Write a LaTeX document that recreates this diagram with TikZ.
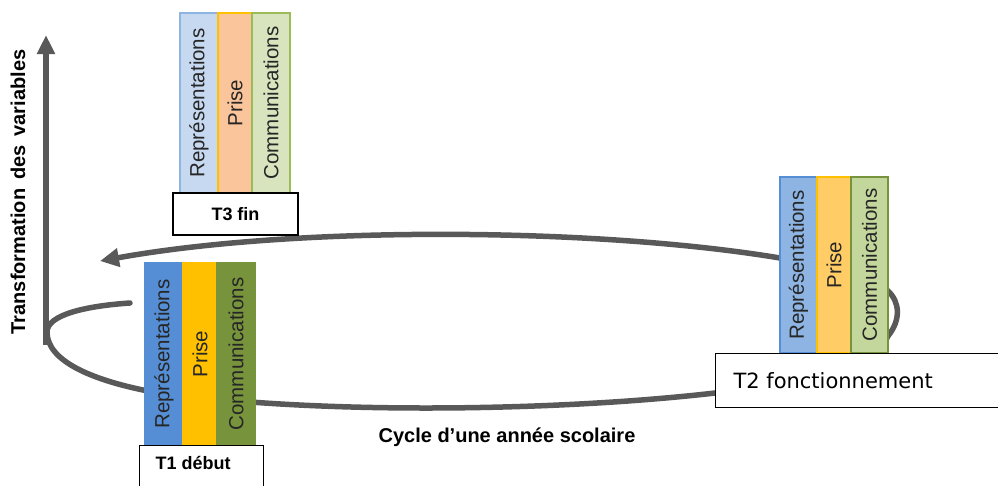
\documentclass[tikz,border=0pt]{standalone}
\usepackage{fontspec}
\setmainfont{Liberation Sans}
\newfontfamily\tahoma{DejaVu Sans}
\usetikzlibrary{arrows.meta}
\definecolor{loopgray}{HTML}{595959}
\definecolor{lbluefill}{HTML}{C6D9F1}\definecolor{lblueline}{HTML}{8EB4E3}
\definecolor{lorgfill}{HTML}{FAC59A}\definecolor{lorgline}{HTML}{FFC000}
\definecolor{lgrnfill}{HTML}{D7E4BD}\definecolor{lgrnline}{HTML}{9BBB59}
\definecolor{dblue}{HTML}{558ED5}
\definecolor{dyellow}{HTML}{FFC000}
\definecolor{dgreen}{HTML}{77933C}
\definecolor{mblue}{HTML}{8DB4E2}
\definecolor{myellow}{HTML}{FFCC66}
\definecolor{mgreen}{HTML}{C3D69B}
\definecolor{bartext}{HTML}{262626}
\tikzset{
  barbox/.style={draw, line width=1.2pt, rotate=90, inner sep=0pt, anchor=center,
    text=bartext, font=\fontsize{20.5}{22}\selectfont},
  labbox/.style={draw=black, fill=white, line width=1.4pt},
  looppath/.style={draw=loopgray, line width=5.5pt, line cap=round},
}
\begin{document}
\begin{tikzpicture}[x=1pt, y=-1pt]
\useasboundingbox (0,0) rectangle (998,485);

% loop
\draw[looppath, -{Triangle[length=19pt,width=18pt]}]
  (130,303) .. controls (85,306) and (47,315) .. (47,332)
  .. controls (47,362) and (95,380) .. (143,390)
  .. controls (300,415) and (550,412) .. (715,393)
  .. controls (820,382) and (878,362) .. (888,336)
  .. controls (901,320) and (900,302) .. (888,291)
  .. controls (860,266) and (820,262) .. (780,258)
  .. controls (600,228) and (300,225) .. (100,261);
% axis
\coordinate (axbot) at (46,345);
\coordinate (axtop) at (46,35);
\draw[looppath, line cap=butt, -{Triangle[length=19pt,width=17pt]}] (axbot) -- (axtop);
\node[rotate=90, font=\bfseries\fontsize{20}{22}\selectfont] (axlab) at (18,192) {Transformation\, des\, variables};

% T3
\node[barbox, fill=lbluefill, draw=lblueline, minimum width=180pt, minimum height=38pt] (t3r) at (199,103) {Représentations};
\node[barbox, fill=lorgfill, draw=lorgline, minimum width=180pt, minimum height=34pt] (t3p) at (235,103) {Prise};
\node[barbox, fill=lgrnfill, draw=lgrnline, minimum width=180pt, minimum height=38pt] (t3c) at (271,103) {Communications};
\node[labbox, minimum width=125pt, minimum height=42pt, font=\bfseries\fontsize{18}{20}\selectfont] (t3) at (235.5,214) {T3 fin};

% T1
\node[barbox, fill=dblue, draw=dblue, minimum width=182pt, minimum height=38pt] (t1r) at (164,354) {Représentations};
\node[barbox, fill=dyellow, draw=dyellow, minimum width=182pt, minimum height=34pt] (t1p) at (200,354) {Prise};
\node[barbox, fill=dgreen, draw=dgreen, minimum width=182pt, minimum height=38pt] (t1c) at (236,354) {Communications};
\node[labbox, minimum width=124pt, minimum height=50pt, anchor=north west] (t1) at (139,445) {};
\node[font=\bfseries\fontsize{18}{20}\selectfont, anchor=west] (t1t) at (152,463) {T1 début};

% T2
\node[barbox, fill=mblue, draw=dblue, minimum width=176pt, minimum height=37pt] (t2r) at (798.5,265) {Représentations};
\node[barbox, fill=myellow, draw=dyellow, minimum width=176pt, minimum height=34pt] (t2p) at (834,265) {Prise};
\node[barbox, fill=mgreen, draw=dgreen, minimum width=176pt, minimum height=37pt] (t2c) at (869.5,265) {Communications};
\node[labbox, minimum width=300pt, minimum height=54pt, anchor=north west] (t2) at (715,353) {};
\node[font=\tahoma\fontsize{21}{24}\selectfont, anchor=west] (t2t) at (730,381) {T2 fonctionnement};

% caption
\node[font=\bfseries\fontsize{20}{22}\selectfont] (cap) at (507,437) {Cycle d’une année scolaire};
\end{tikzpicture}
\end{document}
